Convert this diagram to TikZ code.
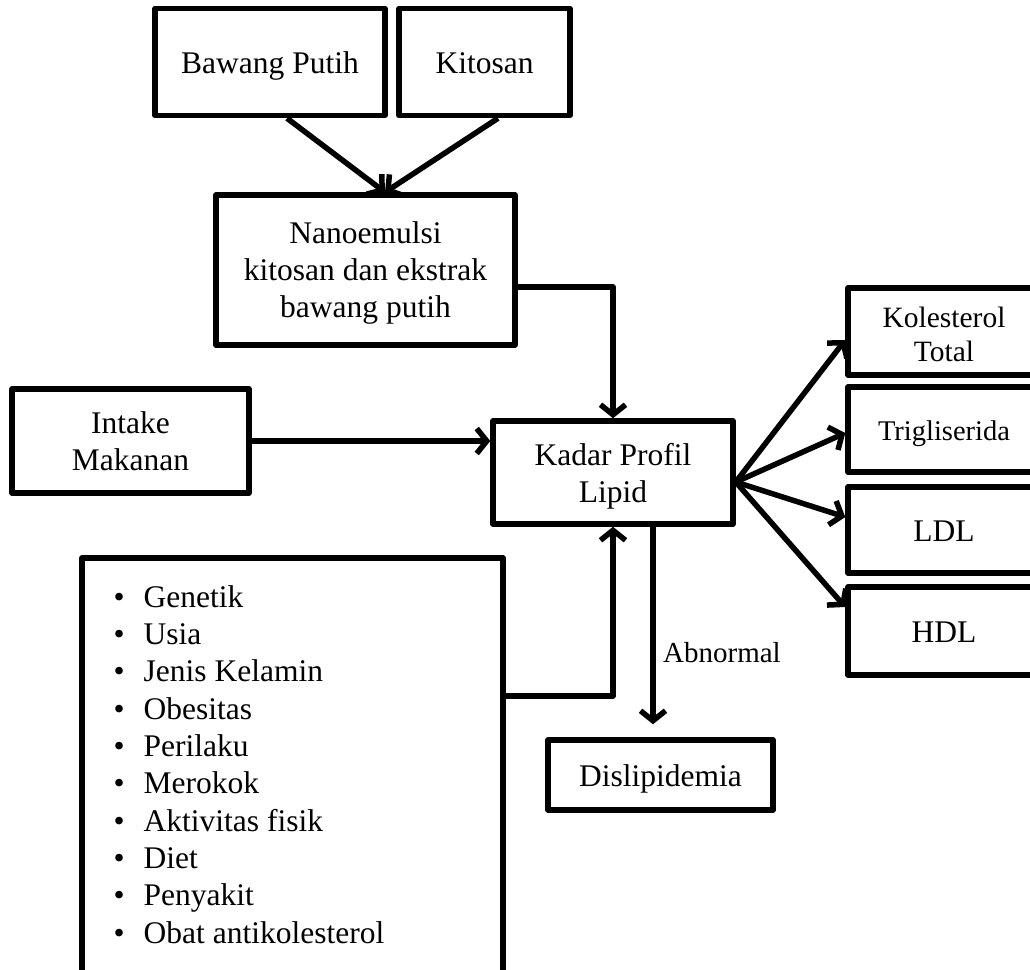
\documentclass[tikz,border=0pt]{standalone}
\usepackage{fontspec}
\setmainfont{Liberation Serif}
\usetikzlibrary{arrows.meta,calc}
\begin{document}
\begin{tikzpicture}[x=1pt,y=-1pt,
  lw/.style={line width=5.5pt},
  box/.style={draw, lw, line join=round, inner sep=0pt, align=center, font=\fontsize{31.5}{37}\selectfont},
  onel/.style={text height=22pt, text depth=0pt},
  arr/.style={lw, line join=round, -{Straight Barb[length=10pt,width=25pt]}},
  lbl/.style={inner sep=0pt, font=\fontsize{29}{34}\selectfont},
  listtxt/.style={inner sep=0pt, align=left, font=\fontsize{31.5}{37.3}\selectfont}]
\clip (0,0) rectangle (1030,969);
\fill[white] (0,0) rectangle (1030,969);
% nodes
\node[box, onel, minimum width=230pt, minimum height=107pt] (bp) at (270,62) {Bawang Putih};
\node[box, onel, minimum width=171pt, minimum height=107pt] (ki) at (484.5,62) {Kitosan};
\node[box, text height=94pt, text depth=0pt, minimum width=299pt, minimum height=150pt] (nano) at (365.5,270) {Nanoemulsi\\kitosan dan ekstrak\\bawang putih};
\node[box, text height=58pt, text depth=0pt, minimum width=237pt, minimum height=104pt] (intake) at (130.5,441) {Intake\\Makanan};
\node[box, text height=59pt, text depth=0pt, minimum width=240pt, minimum height=103pt] (kadar) at (613,472.5) {Kadar Profil\\Lipid};
\node[box, font=\fontsize{29.5}{34}\selectfont, text height=59pt, text depth=0pt, minimum width=192pt, minimum height=87pt] (kol) at (944,331.5) {Kolesterol\\Total};
\node[box, onel, font=\fontsize{28.5}{34}\selectfont, minimum width=192pt, minimum height=85pt] (tri) at (944,429.5) {Trigliserida};
\node[box, onel, minimum width=192pt, minimum height=86pt] (ldl) at (944,530) {LDL};
\node[box, onel, minimum width=192pt, minimum height=88pt] (hdl) at (944,631) {HDL};
\node[box, onel, minimum width=225pt, minimum height=70pt] (dis) at (660.5,775) {Dislipidemia};
\node[box, minimum width=421pt, minimum height=442pt] (fac) at (292.5,779) {};
\node[listtxt, anchor=base west] (lst) at (113.5,943) {%
\makebox[30pt][l]{•}Genetik\\
\makebox[30pt][l]{•}Usia\\
\makebox[30pt][l]{•}Jenis Kelamin\\
\makebox[30pt][l]{•}Obesitas\\
\makebox[30pt][l]{•}Perilaku\\
\makebox[30pt][l]{•}Merokok\\
\makebox[30pt][l]{•}Aktivitas fisik\\
\makebox[30pt][l]{•}Diet\\
\makebox[30pt][l]{•}Penyakit\\
\makebox[30pt][l]{•}Obat antikolesterol};
\node[lbl, anchor=base west] (abn) at (663,662) {Abnormal};
% connectors
\draw[arr] ([xshift=17pt]bp.south) -- ([xshift=19.5pt]nano.north);
\draw[arr] ([xshift=13.5pt]ki.south) -- ([xshift=19.5pt]nano.north);
\draw[arr] ([yshift=-17pt]nano.east) -| (kadar.north);
\draw[arr] (intake.east) -- (intake.east -| kadar.west);
\draw[arr] ([yshift=83pt]fac.east) -| (kadar.south);
\draw[arr] ([xshift=40pt]kadar.south) -- ([xshift=-7.5pt,yshift=13pt]dis.north);
\draw[arr] ([yshift=-9.5pt]kadar.east) -- ([yshift=-8.5pt]kol.west);
\draw[arr] ([yshift=-9.5pt]kadar.east) -- ([yshift=-3.5pt]tri.west);
\draw[arr] ([yshift=-9.5pt]kadar.east) -- ([yshift=13pt]ldl.west);
\draw[arr] ([yshift=-9.5pt]kadar.east) -- ([yshift=24pt]hdl.west);
\end{tikzpicture}
\end{document}
